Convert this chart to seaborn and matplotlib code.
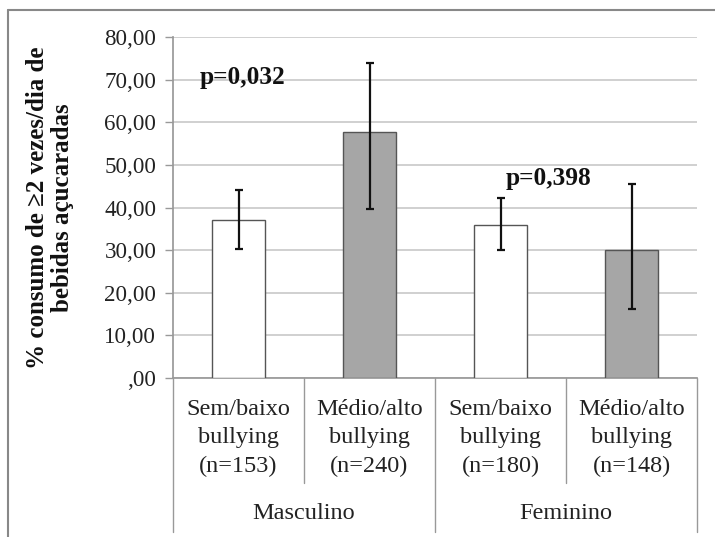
import matplotlib
matplotlib.use("Agg")
import matplotlib.pyplot as plt
import seaborn as sns
import pandas as pd
import numpy as np
from matplotlib.lines import Line2D

categories = ["Sem/baixo\nbullying\n(n=153)", "Médio/alto\nbullying\n(n=240)",
              "Sem/baixo\nbullying\n(n=180)", "Médio/alto\nbullying\n(n=148)"]
groups = ["Masculino", "Feminino"]
values = [37.1, 57.7, 35.9, 30.0]
err_low = [30.3, 39.7, 30.0, 16.3]
err_high = [44.1, 74.0, 42.2, 45.4]
bar_colors = ["#ffffff", "#a6a6a6", "#ffffff", "#a6a6a6"]
yticks = [0, 10, 20, 30, 40, 50, 60, 70, 80]
ytick_labels = [",00", "10,00", "20,00", "30,00", "40,00", "50,00", "60,00", "70,00", "80,00"]
pvalues = ["p=0,032", "p=0,398"]

sns.set_theme(style="white")
plt.rcParams['font.family'] = ['Liberation Serif', 'DejaVu Serif']

fig = plt.figure(figsize=(7.15, 5.37), dpi=100)
ax = fig.add_axes([173/715, 1-378/537, (697-173)/715, (378-37)/537])

df = pd.DataFrame({"cat": categories, "val": values})
sns.barplot(data=df, x="cat", y="val", hue="cat", palette=bar_colors, legend=False,
            width=0.41, edgecolor="#555555", linewidth=1.0, ax=ax, zorder=3)

x = np.arange(len(values))
yerr = [np.array(values) - np.array(err_low), np.array(err_high) - np.array(values)]
ax.errorbar(x, values, yerr=yerr, fmt="none", ecolor="#111111", elinewidth=1.6,
            capsize=3.2, capthick=1.6, zorder=4)

ax.set_xlim(-0.5, 3.5)
ax.set_ylim(0, 80)
ax.set_yticks(yticks)
ax.set_yticklabels(ytick_labels, fontsize=16.6, color="#222222")
ax.yaxis.grid(True, color="#c8c8c8", linewidth=1.2, zorder=0)
ax.set_axisbelow(True)
ax.tick_params(axis="y", which="major", left=True, length=6, width=1, color="#999999", pad=6)
ax.set_xticks([])
ax.set_xlabel("")
ax.set_ylabel("")
for s in ["top", "right"]:
    ax.spines[s].set_visible(False)
ax.spines["left"].set_color("#999999")
ax.spines["bottom"].set_color("#999999")

# category labels
tr = ax.get_xaxis_transform()
for i, lab in enumerate(categories):
    ax.text(i, -0.175, lab, transform=tr, ha="center", va="center", fontsize=17.5,
            linespacing=1.47, color="#222222")
for j, g in enumerate(groups):
    ax.text(0.5 + 2*j, -0.396, g, transform=tr, ha="center", va="center", fontsize=17.5,
            color="#222222")

# divider lines
for xv, yend in [(-0.5, -0.452), (0.5, -0.308), (1.5, -0.452), (2.5, -0.308), (3.5, -0.452)]:
    ax.add_line(Line2D([xv, xv], [0, yend], transform=tr, color="#999999", linewidth=1,
                       clip_on=False))

# p-values
ax.text(-0.30, 70.4, pvalues[0], fontsize=18.3, fontweight="bold", ha="left", va="center",
        color="#111111")
ax.text(2.04, 46.7, pvalues[1], fontsize=18.3, fontweight="bold", ha="left", va="center",
        color="#111111")

# y label
fig.text(50/715, 1-208/537, "% consumo de ≥2 vezes/dia de\nbebidas açucaradas", rotation=90,
         ha="center", va="center", fontsize=18, fontweight="bold", linespacing=1.1,
         multialignment="center", color="#111111")

# outer frame
fig.add_artist(Line2D([8/715, 1], [1-10/537, 1-10/537], transform=fig.transFigure,
                      color="#888888", linewidth=1.5))
fig.add_artist(Line2D([8/715, 8/715], [0, 1-10/537], transform=fig.transFigure,
                      color="#888888", linewidth=1.5))

fig.savefig("out.png", dpi=100)
